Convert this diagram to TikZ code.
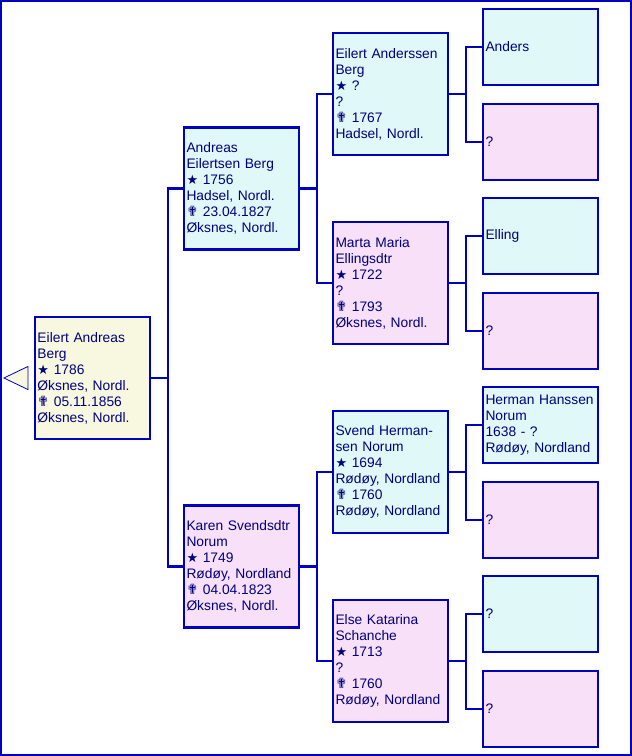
\documentclass[tikz,border=0pt]{standalone}
\usepackage{fontspec}
\setmainfont{Liberation Sans}
\newfontfamily\symfont{DejaVu Sans}
\usepackage{xcolor}
\usetikzlibrary{positioning, calc}
\definecolor{lineblue}{RGB}{0,0,192}
\definecolor{textblue}{RGB}{0,0,128}
\definecolor{malefill}{RGB}{224,248,248}
\definecolor{femalefill}{RGB}{248,224,248}
\definecolor{rootfill}{RGB}{248,248,224}
\newcommand{\bornsym}{{\symfont\fontsize{13}{16}\selectfont ★}}
\newcommand{\diedsym}{{\symfont\fontsize{14}{16}\selectfont ✟}}

\begin{document}
\begin{tikzpicture}[
    x=1pt, y=-1pt,
    font=\fontsize{13.8}{16}\selectfont,
    person/.style = {rectangle, draw=lineblue, line width=2.2pt, text=textblue,
                     minimum width=115pt, minimum height=122pt, text width=110pt,
                     inner xsep=2.5pt, inner ysep=0pt, align=left},
    male/.style   = {person, fill=malefill},
    female/.style = {person, fill=femalefill},
    root/.style   = {person, fill=rootfill},
    smale/.style  = {male,   minimum height=76pt},
    sfemale/.style= {female, minimum height=76pt},
    link/.style   = {draw=lineblue, line width=2.2pt},
    frame/.style  = {draw=lineblue, line width=2.2pt},
]
\useasboundingbox (0,0) rectangle (632,756);
\draw[frame] (1.1,1.1) rectangle (630.9,754.9);

% ---- proband ----
\node[root] (root) at (92.5,378)
     {Eilert Andreas\\Berg\\\bornsym{} 1786\\Øksnes, Nordl.\\\diedsym{} 05.11.1856\\Øksnes, Nordl.};
\draw[draw=lineblue, line width=0.8pt, fill=rootfill]
     ([xshift=-6pt]root.west) ++(0,-11.5) -- ++(0,23) -- ++(-24,-11.5) -- cycle;

% ---- parents ----
\node[male]   (fa) at (241.5,188.5)
     {Andreas\\Eilertsen Berg\\\bornsym{} 1756\\Hadsel, Nordl.\\\diedsym{} 23.04.1827\\Øksnes, Nordl.};
\node[female] (mo) at (241.5,566.5)
     {Karen Svendsdtr\\Norum\\\bornsym{} 1749\\Rødøy, Nordland\\\diedsym{} 04.04.1823\\Øksnes, Nordl.};

% ---- grandparents ----
\node[male]   (fafa) at (390.5,94)
     {Eilert Anderssen\\Berg\\\bornsym{} ?\\?\\\diedsym{} 1767\\Hadsel, Nordl.};
\node[female] (famo) at (390.5,283)
     {Marta Maria\\Ellingsdtr\\\bornsym{} 1722\\?\\\diedsym{} 1793\\Øksnes, Nordl.};
\node[male]   (mofa) at (390.5,472)
     {Svend Herman-\\sen Norum\\\bornsym{} 1694\\Rødøy, Nordland\\\diedsym{} 1760\\Rødøy, Nordland};
\node[female] (momo) at (390.5,661)
     {Else Katarina\\Schanche\\\bornsym{} 1713\\?\\\diedsym{} 1760\\Rødøy, Nordland};

% ---- great-grandparents ----
\node[smale]   (fafafa) at (540.5,47)  {Anders};
\node[sfemale] (fafamo) at (540.5,142) {?};
\node[smale]   (famofa) at (540.5,236) {Elling};
\node[sfemale] (famomo) at (540.5,331) {?};
\node[smale]   (mofafa) at (540.5,425) {Herman Hanssen\\Norum\\1638 - ?\\Rødøy, Nordland};
\node[sfemale] (mofamo) at (540.5,520) {?};
\node[smale]   (momofa) at (540.5,614) {?};
\node[sfemale] (momomo) at (540.5,709) {?};

% ---- links parent -> child ----
\foreach \p/\c in {root/fa, root/mo, fa/fafa, fa/famo, mo/mofa, mo/momo,
                   fafa/fafafa, fafa/fafamo, famo/famofa, famo/famomo,
                   mofa/mofafa, mofa/mofamo, momo/momofa, momo/momomo}
  \draw[link] (\p.east) -- ++(16.5,0) |- (\c.west);

\end{tikzpicture}
\end{document}
